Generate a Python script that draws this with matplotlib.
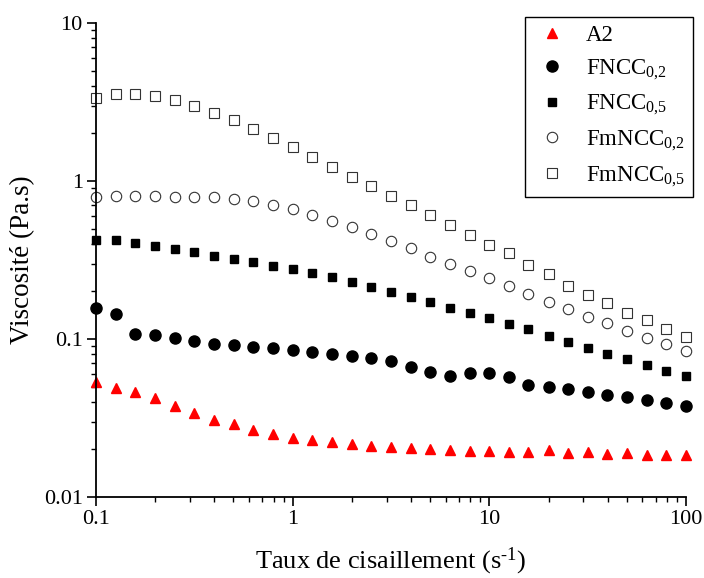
import matplotlib
matplotlib.use('Agg')
import matplotlib.pyplot as plt
import matplotlib.ticker as ticker
from matplotlib import font_manager
import numpy as np

plt.rcParams['font.family'] = ['Liberation Serif', 'DejaVu Serif']
plt.rcParams['mathtext.fontset'] = 'custom'
plt.rcParams['mathtext.rm'] = 'Liberation Serif'
plt.rcParams['mathtext.it'] = 'Liberation Serif:italic'

# taux de cisaillement (s-1), 10 points par decade
shear = [0.1, 0.126, 0.158, 0.2, 0.251, 0.316, 0.398, 0.501, 0.631, 0.794,
         1.0, 1.26, 1.58, 2.0, 2.51, 3.16, 3.98, 5.01, 6.31, 7.94,
         10.0, 12.6, 15.8, 20.0, 25.1, 31.6, 39.8, 50.1, 63.1, 79.4, 100.0]

a2 = [0.0537, 0.0492, 0.0462, 0.0421, 0.0379, 0.0342, 0.0306, 0.0288, 0.0265, 0.0249,
      0.0237, 0.0228, 0.0222, 0.0216, 0.0209, 0.0206, 0.0203, 0.0201, 0.0198, 0.0196,
      0.0195, 0.0192, 0.0194, 0.0198, 0.0189, 0.0194, 0.0186, 0.0189, 0.0184, 0.0184, 0.0184]

fncc02 = [0.156, 0.144, 0.108, 0.106, 0.101, 0.0967, 0.0930, 0.0912, 0.0890, 0.0873,
          0.0855, 0.0831, 0.0803, 0.0780, 0.0758, 0.0722, 0.0668, 0.0615, 0.0586, 0.0609,
          0.0612, 0.0573, 0.0512, 0.0499, 0.0481, 0.0464, 0.0440, 0.0430, 0.0409, 0.0393, 0.0378]

fncc05 = [0.423, 0.423, 0.407, 0.390, 0.371, 0.354, 0.337, 0.322, 0.307, 0.291,
          0.277, 0.261, 0.246, 0.230, 0.214, 0.199, 0.185, 0.171, 0.156, 0.147,
          0.135, 0.125, 0.115, 0.104, 0.0962, 0.0877, 0.0803, 0.0744, 0.0682, 0.0630, 0.0581]

fmncc02 = [0.796, 0.807, 0.807, 0.804, 0.796, 0.796, 0.789, 0.773, 0.747, 0.708,
           0.662, 0.610, 0.561, 0.512, 0.462, 0.419, 0.375, 0.330, 0.297, 0.269,
           0.242, 0.216, 0.193, 0.171, 0.155, 0.138, 0.126, 0.113, 0.102, 0.0926, 0.0843]

fmncc05 = [3.37, 3.54, 3.57, 3.47, 3.26, 3.00, 2.71, 2.42, 2.14, 1.88,
           1.63, 1.42, 1.23, 1.06, 0.925, 0.803, 0.705, 0.609, 0.527, 0.455,
           0.394, 0.348, 0.292, 0.256, 0.218, 0.190, 0.168, 0.147, 0.131, 0.116, 0.1026]

fig = plt.figure(figsize=(7.04, 5.78), dpi=100)
ax = fig.add_axes([96/704, 1-497/578, 590/704, 474/578])

ax.plot(shear, a2, '^', color='red', ms=7.5, mec='red', label='A2', clip_on=False)
ax.plot(shear, fncc02, 'o', color='black', ms=8, label=r'FNCC$_{0{,}2}$', clip_on=False)
ax.plot(shear, fncc05, 's', color='black', ms=6.3, label=r'FNCC$_{0{,}5}$', clip_on=False)
ax.plot(shear, fmncc02, 'o', mfc='white', mec='#333333', mew=0.8, ms=7.5,
        label=r'FmNCC$_{0{,}2}$', clip_on=False)
ax.plot(shear, fmncc05, 's', mfc='white', mec='#333333', mew=0.8, ms=6.5,
        label=r'FmNCC$_{0{,}5}$', clip_on=False)

ax.set_xscale('log')
ax.set_yscale('log')
ax.set_xlim(0.1, 100)
ax.set_ylim(0.01, 10)

fmt = ticker.FuncFormatter(lambda v, _: f'{v:g}')
ax.xaxis.set_major_formatter(fmt)
ax.yaxis.set_major_formatter(fmt)
ax.xaxis.set_minor_formatter(ticker.NullFormatter())
ax.yaxis.set_minor_formatter(ticker.NullFormatter())

for s in ['top', 'right']:
    ax.spines[s].set_visible(False)
for s in ['left', 'bottom']:
    ax.spines[s].set_linewidth(1.3)

ax.tick_params(which='major', direction='out', length=6.5, width=1.2, labelsize=16, pad=3)
ax.tick_params(which='minor', direction='out', length=3.5, width=1.0)

ax.set_xlabel('Taux de cisaillement (s$^{\\mathrm{\u2010}1}$)', fontsize=19, labelpad=12)

# police droite explicite pour le titre vertical
regular = font_manager.findfont(font_manager.FontProperties(family='Liberation Serif',
                                                            style='normal', weight='normal'))
ax.set_ylabel('Viscosité (Pa.s)', labelpad=6,
              fontproperties=font_manager.FontProperties(fname=regular, size=19.5))

leg = ax.legend(loc='upper right', bbox_to_anchor=(1.012, 1.013), borderaxespad=0,
                fontsize=16.5, frameon=True, fancybox=False, framealpha=1,
                edgecolor='black', handletextpad=0.7, labelspacing=0.5,
                borderpad=0.35, handlelength=1.6)
leg.get_frame().set_linewidth(1.0)

fig.savefig('out.png', dpi=100)
